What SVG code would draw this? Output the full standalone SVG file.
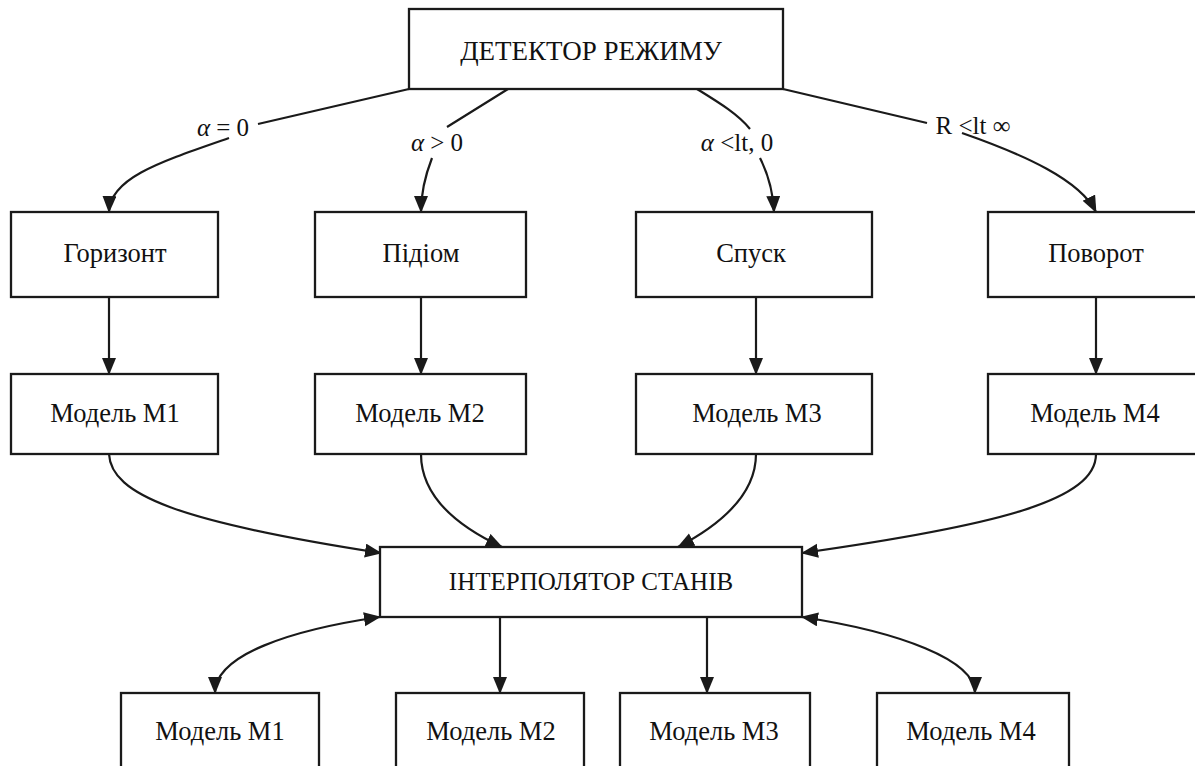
<svg xmlns="http://www.w3.org/2000/svg" width="1195" height="766" viewBox="0 0 1195 766">
<style>
.box{fill:#fff;stroke:#1a1a1a;stroke-width:2.3}
.t{font-family:"Liberation Serif","DejaVu Serif","Times New Roman",serif;fill:#111;text-anchor:middle}
.n{font-size:26.5px}
.big{font-size:27px}
.mid{font-size:25px}
.lbl{font-size:25px}
.c{fill:none;stroke:#1a1a1a;stroke-width:2.2}
</style>
<defs>
<marker id="ah" markerUnits="userSpaceOnUse" markerWidth="18" markerHeight="15" refX="16" refY="7" orient="auto-start-reverse" viewBox="0 0 18 15">
<path d="M0,0 L17,7 L0,14 z" fill="#1a1a1a"/>
</marker>
</defs>
<rect width="1195" height="766" fill="#fff"/>

<g id="connectors">
<path class="c" d="M409 89 L258 124 M229 138 C160 162 110 178 109 212" marker-end="url(#ah)"/>
<path class="c" d="M508 89 L447 127 M432 158 C425 176 421 192 421 212" marker-end="url(#ah)"/>
<path class="c" d="M697 89 C718 102 738 114 750 129 M760 158 C767 172 773 190 774 212" marker-end="url(#ah)"/>
<path class="c" d="M783 89 L927 123 M962 133 C1025 155 1080 180 1096 212" marker-end="url(#ah)"/>
<path class="c" d="M109 297 L109 374" marker-end="url(#ah)"/>
<path class="c" d="M421 297 L421 374" marker-end="url(#ah)"/>
<path class="c" d="M756 297 L756 374" marker-end="url(#ah)"/>
<path class="c" d="M1096 297 L1096 374" marker-end="url(#ah)"/>
<path class="c" d="M109 454 C111 495 180 522 381 553" marker-end="url(#ah)"/>
<path class="c" d="M421 454 C421 495 455 525 502 547" marker-end="url(#ah)"/>
<path class="c" d="M756 454 C756 495 720 525 678 547" marker-end="url(#ah)"/>
<path class="c" d="M1096 454 C1096 500 1000 525 802 553" marker-end="url(#ah)"/>
<path class="c" d="M380 617 C290 630 215 655 215 693" marker-start="url(#ah)" marker-end="url(#ah)"/>
<path class="c" d="M500 617 L500 693" marker-end="url(#ah)"/>
<path class="c" d="M707 617 L707 693" marker-end="url(#ah)"/>
<path class="c" d="M802 617 C900 632 975 660 975 693" marker-start="url(#ah)" marker-end="url(#ah)"/>
</g>

<g id="labels">
<text class="t lbl" x="223" y="136"><tspan font-style="italic">α</tspan> = 0</text>
<text class="t lbl" x="437" y="151"><tspan font-style="italic">α</tspan> &gt; 0</text>
<text class="t lbl" x="737" y="151"><tspan font-style="italic">α</tspan> &lt;lt, 0</text>
<text class="t lbl" x="973" y="134">R &lt;lt ∞</text>
</g>

<g id="detector"><rect class="box" x="409" y="9" width="374" height="80"/><text class="t big" x="591" y="60">ДЕТЕКТОР РЕЖИМУ</text></g>

<g id="horizont"><rect class="box" x="11" y="212" width="207" height="85"/><text class="t n" x="115" y="262">Горизонт</text></g>
<g id="pidiom"><rect class="box" x="315" y="212" width="211" height="85"/><text class="t n" x="421" y="262">Підіом</text></g>
<g id="spusk"><rect class="box" x="636" y="212" width="236" height="85"/><text class="t n" x="751" y="262">Спуск</text></g>
<g id="povorot"><rect class="box" x="988" y="212" width="220" height="85"/><text class="t n" x="1096" y="262">Поворот</text></g>

<g id="m1"><rect class="box" x="11" y="374" width="207" height="80"/><text class="t n" x="115" y="422">Модель M1</text></g>
<g id="m2"><rect class="box" x="315" y="374" width="211" height="80"/><text class="t n" x="420" y="422">Модель M2</text></g>
<g id="m3"><rect class="box" x="636" y="374" width="236" height="80"/><text class="t n" x="757" y="422">Модель M3</text></g>
<g id="m4"><rect class="box" x="988" y="374" width="220" height="80"/><text class="t n" x="1095" y="422">Модель M4</text></g>

<g id="interpolator"><rect class="box" x="380" y="547" width="422" height="70"/><text class="t mid" x="591" y="590">ІНТЕРПОЛЯТОР СТАНІВ</text></g>

<g id="b1"><rect class="box" x="121" y="693" width="198" height="80"/><text class="t n" x="220" y="740">Модель M1</text></g>
<g id="b2"><rect class="box" x="396" y="693" width="188" height="80"/><text class="t n" x="491" y="740">Модель M2</text></g>
<g id="b3"><rect class="box" x="620" y="693" width="190" height="80"/><text class="t n" x="714" y="740">Модель M3</text></g>
<g id="b4"><rect class="box" x="877" y="693" width="192" height="80"/><text class="t n" x="971" y="740">Модель M4</text></g>
</svg>
